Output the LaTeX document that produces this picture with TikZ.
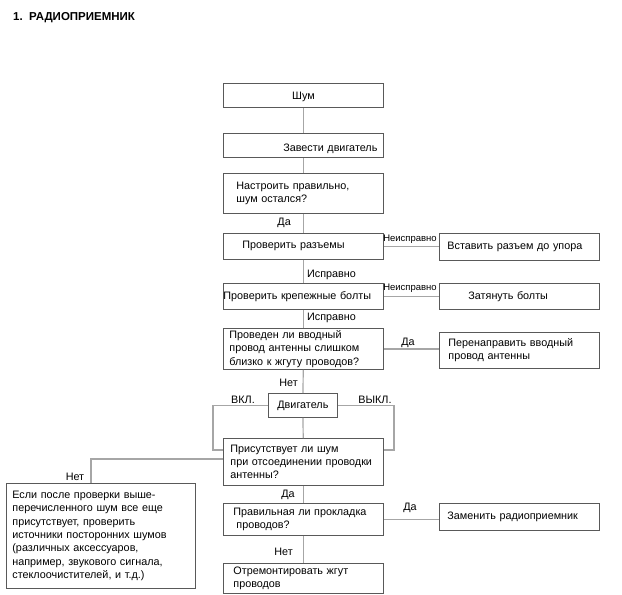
\documentclass[tikz,border=0pt]{standalone}
\usepackage{fontspec}
\setmainfont{Liberation Sans}
\usetikzlibrary{positioning}
\tikzset{>=latex}
\newcommand\boxfont{\fontsize{10.8}{13.3}\selectfont}
\newcommand\tagfont{\fontsize{9.5}{11}\selectfont}
\tikzset{
  box/.style={draw=black!65, line width=0.8pt, anchor=north west, inner ysep=2pt,
    inner xsep=#1, text width=160pt-2*#1, align=left, font=\boxfont},
  box/.default=8pt,
  wire/.style={draw=black!35, line width=1.2pt},
  tag/.style={font=\boxfont, inner sep=1pt},
  smalltag/.style={font=\tagfont, inner sep=1pt},
}

\begin{document}
\begin{tikzpicture}[x=1pt, y=-1pt]
    \useasboundingbox (0,0) rectangle (622,595);
    \node [anchor=west, inner sep=0pt, font=\fontsize{11.5}{13}\selectfont\bfseries] (title) at (13,18) {1.\ \ РАДИОПРИЕМНИК};

    \node [box=0pt, align=center, minimum height=24pt, text height=10pt] (noise) at (223,83) {Шум};
    \node [box=6pt, align=right, minimum height=24pt, text height=15pt] (start) at (223,133) {Завести двигатель};
    \node [box=13pt, minimum height=40pt] (tune) at (223,173) {Настроить правильно,\\шум остался?};
    \node [box=19pt, minimum height=26pt] (plugs) at (223,233) {Проверить разъемы};
    \node [box=0pt, minimum height=26pt] (bolts) at (223,283) {Проверить крепежные болты};
    \node [box=6pt, minimum height=41pt] (lead) at (223,328) {Проведен ли вводный\\провод антенны слишком\\близко к жгуту проводов?};
    \node [box=0pt, text width=69pt, align=center, minimum height=24pt] (engine) at (268,393) {Двигатель};
    \node [box=7pt, minimum height=47pt] (unplug) at (223,438) {Присутствует ли шум\\при отсоединении проводки\\антенны?};
    \node [box=10pt, minimum height=32pt] (route) at (223,503) {Правильная ли прокладка\\\hspace{3pt}проводов?};
    \node [box=10pt, minimum height=30pt] (harness) at (223,563) {Отремонтировать жгут\\проводов};

    \node [box=8pt, minimum height=27pt] (insert) at (439,233) {Вставить разъем до упора};
    \node [box=29pt, minimum height=26pt] (tighten) at (439,283) {Затянуть болты};
    \node [box=9pt, minimum height=36pt] (reroute) at (439,332) {Перенаправить вводный\\провод антенны};
    \node [box=8pt, minimum height=27pt] (replace) at (439,503) {Заменить радиоприемник};
    \node [box=6pt, text width=177pt, minimum height=105pt] (other) at (6,483) {Если после проверки выше-\\перечисленного шум все еще\\присутствует, проверить\\источники посторонних шумов\\(различных аксессуаров,\\например, звукового сигнала,\\стеклоочистителей, и т.д.)};

    \coordinate (onturn) at (213,450);
    \coordinate (offturn) at (394,450);

    \draw [wire] (noise) -- (start);
    \draw [wire] (start) -- (tune);
    \draw [wire] (tune) -- (plugs);
    \draw [wire] (plugs) -- (bolts);
    \draw [wire] (bolts) -- (lead);
    \draw [wire] (lead) -- (engine);
    \draw [wire] (engine) -- (unplug);
    \draw [wire] (unplug) -- (route);
    \draw [wire] (route) -- (harness);
    \draw [wire] (plugs.east) -- (plugs.east -| insert.west);
    \draw [wire] (bolts.east) -- (bolts.east -| tighten.west);
    \draw [wire] (lead.east) -- (lead.east -| reroute.west);
    \draw [wire] (route.east) -- (route.east -| replace.west);
    \draw [wire] (engine.west) -| (onturn) -- (onturn -| unplug.west);
    \draw [wire] (engine.east) -| (offturn) -- (offturn -| unplug.east);
    \draw [wire] ([yshift=3pt]unplug.west) -| ([xshift=-10pt]other.north);

    \node [tag, anchor=east] (yes1) at (292,223) {Да};
    \node [smalltag] (bad1) at (410,239) {Неисправно};
    \node [tag, anchor=west] (ok1) at (306,275) {Исправно};
    \node [smalltag] (bad2) at (410,288) {Неисправно};
    \node [tag, anchor=west] (ok2) at (306,318) {Исправно};
    \node [tag] (yes2) at (408,343) {Да};
    \node [tag, anchor=east] (no1) at (299,383) {Нет};
    \node [tag] (on) at (243,400) {ВКЛ.};
    \node [tag] (off) at (375,400) {ВЫКЛ.};
    \node [tag] (no2) at (75,477) {Нет};
    \node [tag] (yes3) at (288,495) {Да};
    \node [tag] (yes4) at (410,508) {Да};
    \node [tag, anchor=east] (no3) at (294,552) {Нет};
\end{tikzpicture}
\end{document}
